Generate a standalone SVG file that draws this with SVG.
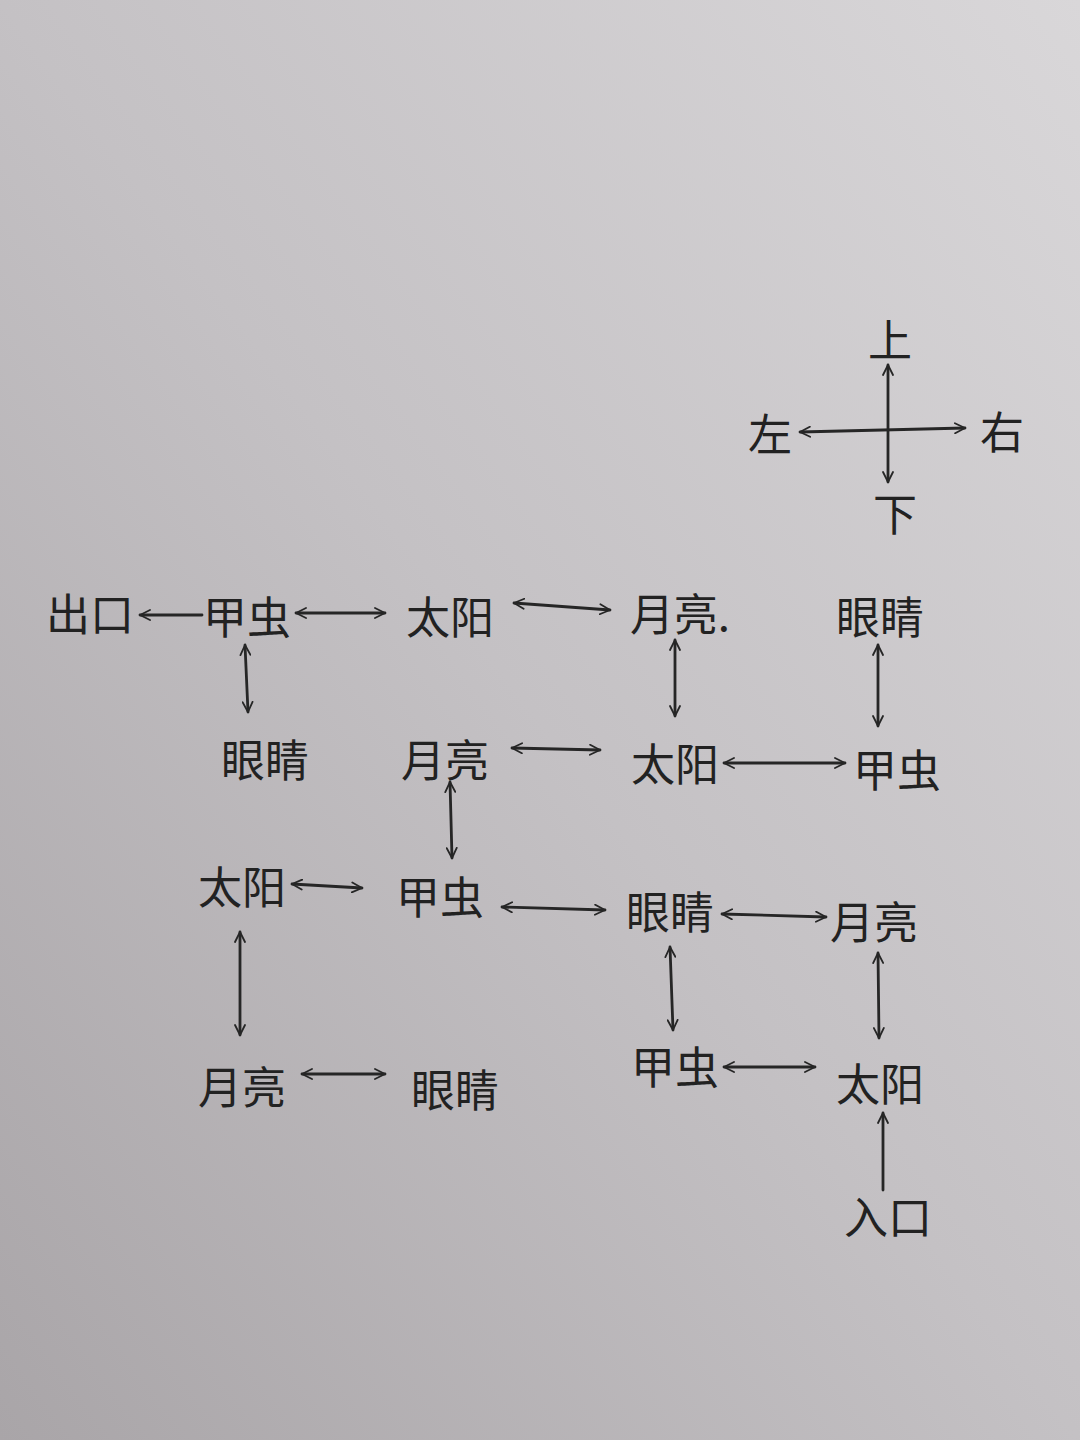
<svg xmlns="http://www.w3.org/2000/svg" width="1080" height="1440" viewBox="0 0 1080 1440">
<defs>
<linearGradient id="bg" x1="1" y1="0" x2="0" y2="1">
<stop offset="0" stop-color="#d9d7d9"/>
<stop offset="0.5" stop-color="#c4c1c4"/>
<stop offset="1" stop-color="#a9a5a8"/>
</linearGradient>
<marker id="ah" viewBox="0 0 12 12" refX="11" refY="6" markerWidth="12" markerHeight="12" markerUnits="userSpaceOnUse" orient="auto-start-reverse">
<path d="M1,1 L11,6 L1,11" fill="none" stroke="#262626" stroke-width="1.8" stroke-linecap="round" stroke-linejoin="round"/>
</marker>
<style>
.t{font-family:"Noto Sans CJK SC","Noto Sans CJK JP",sans-serif;font-size:44px;font-weight:400;fill:#222;text-anchor:middle;dominant-baseline:central}
.c line{stroke:#262626;stroke-width:2.8;stroke-linecap:round;fill:none}
.b{marker-start:url(#ah);marker-end:url(#ah)}
.e{marker-end:url(#ah)}
</style>
</defs>
<rect width="1080" height="1440" fill="url(#bg)"/>

<g id="compass">
<text class="t" x="890" y="338" font-size="38">上</text>
<text class="t" x="770" y="432" font-size="38">左</text>
<text class="t" x="1002" y="430" font-size="38">右</text>
<text class="t" x="895" y="512" font-size="38">下</text>
</g>

<g class="c" id="connectors">
<line class="b" x1="888" y1="365" x2="888" y2="482"/>
<line class="b" x1="800" y1="432" x2="965" y2="428"/>
<line class="e" x1="202" y1="615" x2="140" y2="615"/>
<line class="b" x1="296" y1="613" x2="385" y2="613"/>
<line class="b" x1="514" y1="603" x2="610" y2="610"/>
<line class="b" x1="245" y1="645" x2="248" y2="712"/>
<line class="b" x1="675" y1="640" x2="675" y2="716"/>
<line class="b" x1="878" y1="645" x2="878" y2="726"/>
<line class="b" x1="512" y1="748" x2="600" y2="750"/>
<line class="b" x1="724" y1="763" x2="845" y2="763"/>
<line class="b" x1="450" y1="782" x2="452" y2="858"/>
<line class="b" x1="292" y1="884" x2="362" y2="888"/>
<line class="b" x1="502" y1="907" x2="605" y2="910"/>
<line class="b" x1="722" y1="914" x2="826" y2="917"/>
<line class="b" x1="240" y1="932" x2="240" y2="1035"/>
<line class="b" x1="670" y1="947" x2="673" y2="1030"/>
<line class="b" x1="878" y1="953" x2="879" y2="1038"/>
<line class="b" x1="302" y1="1074" x2="385" y2="1074"/>
<line class="b" x1="724" y1="1067" x2="815" y2="1067"/>
<line class="e" x1="883" y1="1190" x2="883" y2="1113"/>
</g>

<g id="n-exit"><text class="t" x="90" y="612">出口</text></g>
<g id="n-r1-beetle"><text class="t" x="247" y="615">甲虫</text></g>
<g id="n-r1-sun"><text class="t" x="450" y="615">太阳</text></g>
<g id="n-r1-moon"><text class="t" x="680" y="612">月亮.</text></g>
<g id="n-r1-eyes"><text class="t" x="880" y="615">眼睛</text></g>

<g id="n-r2-eyes"><text class="t" x="265" y="758">眼睛</text></g>
<g id="n-r2-moon"><text class="t" x="445" y="758">月亮</text></g>
<g id="n-r2-sun"><text class="t" x="675" y="762">太阳</text></g>
<g id="n-r2-beetle"><text class="t" x="897" y="768">甲虫</text></g>

<g id="n-r3-sun"><text class="t" x="242" y="885">太阳</text></g>
<g id="n-r3-beetle"><text class="t" x="440" y="895">甲虫</text></g>
<g id="n-r3-eyes"><text class="t" x="670" y="910">眼睛</text></g>
<g id="n-r3-moon"><text class="t" x="874" y="920">月亮</text></g>

<g id="n-r4-moon"><text class="t" x="242" y="1085">月亮</text></g>
<g id="n-r4-eyes"><text class="t" x="455" y="1088">眼睛</text></g>
<g id="n-r4-beetle"><text class="t" x="675" y="1065">甲虫</text></g>
<g id="n-r4-sun"><text class="t" x="880" y="1082">太阳</text></g>

<g id="n-entry"><text class="t" x="888" y="1215">入口</text></g>
</svg>
